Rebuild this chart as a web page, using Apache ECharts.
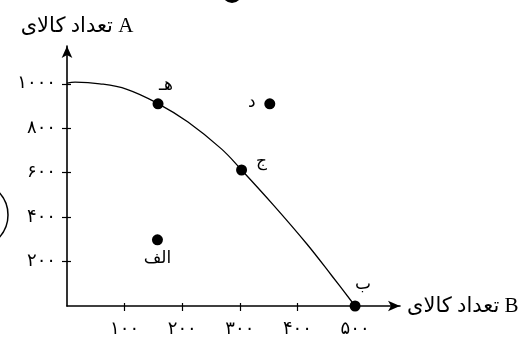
<!DOCTYPE html>
<html>
<head>
<meta charset="utf-8">
<script src="https://cdn.jsdelivr.net/npm/echarts@6/dist/echarts.min.js"></script>
<style>
html, body { margin: 0; padding: 0; background: #fff; }
#ppf { width: 529px; height: 338px; }
</style>
</head>
<body>
<div id="ppf"></div>
<script>
// منحنی امکانات تولید
var curveB = [0, 14, 57, 104, 158, 210, 268, 303, 358, 416, 460, 500];
var curveA = [1003, 1007, 1000, 975, 911, 828, 707, 612, 455, 280, 135, 0];

var pointNames = ['الف', 'ب', 'ج', 'د', 'هـ'];
var pointB = [157, 500, 303, 352, 158];
var pointA = [298, 0, 612, 910, 910];

var xTickValues = [100, 200, 300, 400, 500];
var xTickLabels = ['۱۰۰', '۲۰۰', '۳۰۰', '۴۰۰', '۵۰۰'];
var yTickValues = [200, 400, 600, 800, 1000];
var yTickLabels = ['۲۰۰', '۴۰۰', '۶۰۰', '۸۰۰', '۱۰۰۰'];

var xName = 'تعداد کالای B';
var yName = 'تعداد کالای A';

// label offsets for each point (px)
var labelOffset = {
	'الف': [0, 19],
	'ب': [8, -21],
	'ج': [20, -8],
	'د': [-18, -1],
	'هـ': [8, -18]
};

var fontFa = '"Liberation Serif", "DejaVu Sans", serif';

function tickLabel(values, labels) {
	return function(v) {
		var i = values.indexOf(v);
		return i < 0 ? '' : labels[i];
	};
}

var chart = echarts.init(document.getElementById('ppf'));

var curveData = [];
for (var i = 0; i < curveB.length; i++) {
	curveData.push([curveB[i], curveA[i]]);
}
var pointData = [];
for (var j = 0; j < pointNames.length; j++) {
	pointData.push({
		name: pointNames[j],
		value: [pointB[j], pointA[j]],
		label: {
			offset: labelOffset[pointNames[j]]
		}
	});
}

var option = {
	animation: false,
	backgroundColor: '#fff',
	grid: {
		left: 67,
		right: 129,
		top: 46,
		bottom: 29
	},
	xAxis: [{
		type: 'value',
		min: 0,
		max: 578,
		name: xName,
		nameLocation: 'end',
		nameGap: 7,
		nameTextStyle: {
			fontFamily: fontFa,
			fontSize: 21,
			color: '#000',
			verticalAlign: 'middle'
		},
		splitLine: { show: false },
		axisLine: {
			lineStyle: { color: '#000', width: 1.6 },
			symbol: ['none', 'arrow'],
			symbolSize: [8, 12]
		},
		axisTick: {
			customValues: xTickValues,
			length: 5,
			lineStyle: { color: '#000', width: 1.2 }
		},
		axisLabel: {
			customValues: xTickValues,
			formatter: tickLabel(xTickValues, xTickLabels),
			margin: 14,
			fontFamily: 'DejaVu Sans',
			fontSize: 18,
			color: '#000'
		}
	}, {
		type: 'value',
		min: 0,
		max: 578,
		position: 'bottom',
		splitLine: { show: false },
		axisLine: { show: false },
		axisLabel: { show: false },
		axisTick: {
			customValues: xTickValues,
			inside: true,
			length: 3,
			lineStyle: { color: '#000', width: 1.2 }
		}
	}],
	yAxis: [{
		type: 'value',
		min: 0,
		max: 1170,
		name: yName,
		nameLocation: 'end',
		nameGap: 9,
		nameTextStyle: {
			fontFamily: fontFa,
			fontSize: 21,
			color: '#000',
			align: 'center',
			padding: [0, 0, 0, 20]
		},
		splitLine: { show: false },
		axisLine: {
			lineStyle: { color: '#000', width: 1.6 },
			symbol: ['none', 'arrow'],
			symbolSize: [8, 12]
		},
		axisTick: {
			customValues: yTickValues,
			length: 5,
			lineStyle: { color: '#000', width: 1.2 }
		},
		axisLabel: {
			customValues: yTickValues,
			formatter: tickLabel(yTickValues, yTickLabels),
			margin: 11,
			fontFamily: 'DejaVu Sans',
			fontSize: 18,
			color: '#000'
		}
	}, {
		type: 'value',
		min: 0,
		max: 1170,
		position: 'left',
		splitLine: { show: false },
		axisLine: { show: false },
		axisLabel: { show: false },
		axisTick: {
			customValues: yTickValues,
			inside: true,
			length: 4,
			lineStyle: { color: '#000', width: 1.2 }
		}
	}],
	series: [{
		name: 'curve',
		type: 'line',
		smooth: 0.4,
		showSymbol: false,
		data: curveData,
		lineStyle: { color: '#000', width: 1.3 },
		z: 2
	}, {
		name: 'points',
		type: 'scatter',
		symbolSize: 11,
		itemStyle: { color: '#000', opacity: 1 },
		label: {
			show: true,
			position: 'inside',
			formatter: '{b}',
			fontFamily: 'DejaVu Sans',
			fontSize: 17,
			color: '#000'
		},
		data: pointData,
		z: 3
	}],
	graphic: [{
		// cropped edge of the source page
		type: 'arc',
		shape: { cx: -25, cy: 215, r: 33, startAngle: -0.78, endAngle: 0.78 },
		style: { stroke: '#000', lineWidth: 1.5, fill: null }
	}, {
		type: 'circle',
		shape: { cx: 232, cy: -7, r: 10 },
		style: { fill: '#000' }
	}]
};

chart.setOption(option);
</script>
</body>
</html>
